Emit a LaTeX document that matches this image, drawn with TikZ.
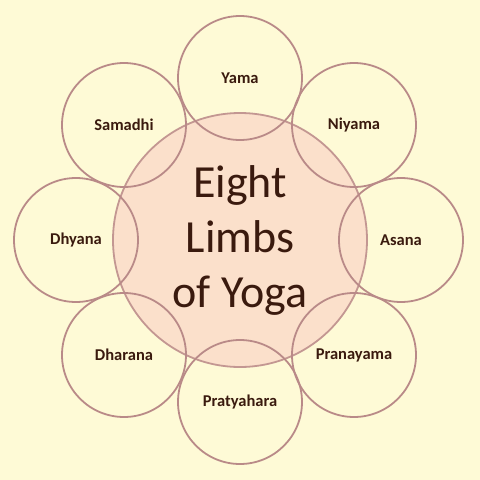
\documentclass[tikz,border=0pt]{standalone}
\usepackage{fontspec}
\setmainfont{Carlito}
\definecolor{bg}{HTML}{FEFAD6}
\definecolor{ring}{HTML}{B98A88}
\definecolor{core}{HTML}{FBE0CB}
\definecolor{ink}{HTML}{3A1A0E}
\tikzset{
  limb/.style={circle, draw=ring, line width=1.8pt, minimum size=124pt, inner sep=0pt, font=\fontsize{16.5}{19}\selectfont\bfseries, text=ink},
  hub/.style={circle, draw=ring!85!core, fill=core, line width=1.8pt, minimum size=254pt, inner sep=0pt, font=\fontsize{46}{55}\selectfont, text=ink, align=center}
}
\begin{document}
\begin{tikzpicture}[x=1pt,y=-1pt]
\fill[bg] (0,0) rectangle (480,480);
\useasboundingbox (0,0) rectangle (480,480);
\node[hub] (hub) at (240,240) {Eight\\Limbs\\of Yoga};
\node[limb] (yama) at (240,78) {Yama};
\node[limb] (niyama) at (354,125) {Niyama};
\node[limb] (asana) at (401,240) {Asana};
\node[limb] (pranayama) at (354,355) {Pranayama};
\node[limb] (pratyahara) at (240,402) {Pratyahara};
\node[limb] (dharana) at (124,355) {Dharana};
\node[limb] (dhyana) at (76,240) {Dhyana};
\node[limb] (samadhi) at (124,125) {Samadhi};
\end{tikzpicture}
\end{document}
